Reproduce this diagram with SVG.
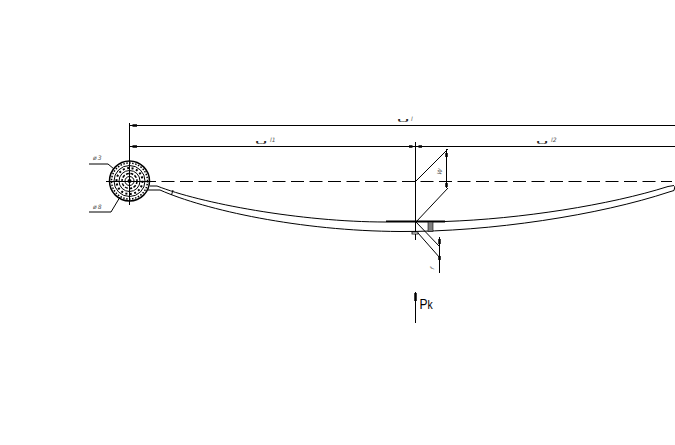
<svg xmlns="http://www.w3.org/2000/svg" width="675" height="445" viewBox="0 0 675 445">
<style>
.l{fill:none;stroke:#000;stroke-width:1}
.t{fill:none;stroke:#000;stroke-width:1.500}
.d{fill:none;stroke:#000;stroke-width:1;stroke-dasharray:13 5.5}
.h{stroke:#000;stroke-width:2.5}
.s{font-family:"DejaVu Sans",sans-serif;font-size:6px;font-style:italic;fill:#555}
.a{font-family:"DejaVu Sans",sans-serif;font-size:9px;fill:#222}
</style>
<rect width="675" height="445" fill="#fff"/>
<g id="connectors">
<path class="l" d="M129.5 123V205M129.5 125.500H675M129.5 146.500H675M415.500 142V240"/>
<path class="d" d="M106 181.500H672"/>
<path class="l" d="M416 181L448 149M416 222L448 188M446.500 149V188M416 222L440 247M418 233L440 258M439.500 237V273M415.500 292V323"/>
<path class="l" d="M89 164H108L114 169M89 212H111L120 197"/>
<path class="h" d="M132.500 125.500H137M132.500 146.500H137M409 146.500H412.500M418.500 146.500H422M446.500 153V157M446.500 183V187M439.500 239V244M439.500 256V260M415.500 293V301"/>
<path d="M386 221.500H445" stroke="#000" stroke-width="2" fill="none"/>
</g>
<g id="leaf-spring">
<path class="l" d="M150 186H157C200 203 300 222 386 222M445 221.500C520 219 610 205 668 186.500"/>
<path class="l" d="M148 190H160C205 210 300 231 400 231.500C490 232 600 215 669 192"/>
<path class="l" d="M173 190L171.500 195M668 186.500L674 185.500M669 192L674 190.500L675 186"/>
<rect x="428" y="222" width="5" height="9.500" fill="#808080" stroke="#000" stroke-width=".6"/>
<rect x="412" y="232" width="6" height="2" fill="#fff" stroke="#000" stroke-width=".8"/>
</g>
<g id="eye">
<circle class="t" cx="129.500" cy="181" r="20"/>
<circle cx="129.500" cy="181" r="18" fill="none" stroke="#000" stroke-width="1.500" stroke-dasharray="1.500 1.500"/>
<circle class="l" cx="129.500" cy="181" r="15.500"/>
<circle cx="129.500" cy="181" r="13" fill="none" stroke="#000" stroke-width="2" stroke-dasharray="2 2.500"/>
<circle class="l" cx="129.500" cy="181" r="10.500"/>
<circle cx="129.500" cy="181" r="7.500" fill="none" stroke="#000" stroke-width="1.500" stroke-dasharray="3 1.500"/>
<circle class="l" cx="129.500" cy="181" r="4.500"/>
<circle cx="129.500" cy="181" r="2" fill="#000"/>
<path class="l" d="M106 181.500H150"/>
</g>
<g id="labels">
<text class="s" x="93" y="160" letter-spacing="1">ø3</text>
<text class="s" x="93" y="208.500" letter-spacing="1">ø8</text>
<text class="a" transform="translate(396 122) scale(2.400 .6)">∪</text>
<text class="s" x="411" y="121">l</text>
<text class="a" transform="translate(254 144) scale(2.400 .6)">∪</text>
<text class="s" x="270" y="142">l1</text>
<text class="a" transform="translate(535 144) scale(2.400 .6)">∪</text>
<text class="s" x="551" y="142">l2</text>
<text class="s" transform="translate(441 175) rotate(-75)">W</text>
<text class="s" transform="translate(434 270) rotate(-75)">f</text>
<text transform="translate(419.500 309) scale(.8 1)" font-family="'Liberation Sans',sans-serif" font-size="15" fill="#000">P<tspan font-size="13">k</tspan></text>
</g>
</svg>
